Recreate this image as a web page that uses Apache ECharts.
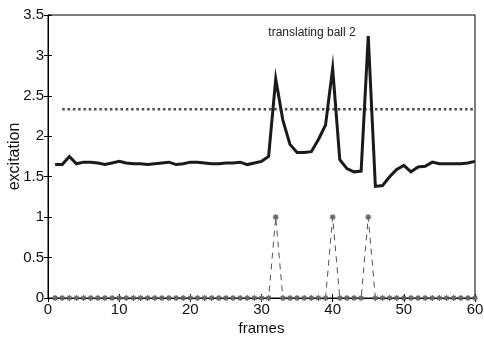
<!DOCTYPE html>
<html>
<head>
<meta charset="utf-8">
<script src="https://cdn.jsdelivr.net/npm/echarts@6/dist/echarts.min.js"></script>
<style>html,body{margin:0;padding:0;background:#fff}#c{width:484px;height:338px}</style>
</head>
<body>
<div id="c"></div>
<script>
// frames 1..60
const frames = [];
for (let i = 1; i <= 60; i++) frames.push(i);

const excitation = [1.65,1.65,1.75,1.66,1.68,1.68,1.67,1.65,1.67,1.69,
                    1.67,1.66,1.66,1.65,1.66,1.67,1.68,1.65,1.66,1.68,
                    1.68,1.67,1.66,1.66,1.67,1.67,1.68,1.65,1.67,1.69,
                    1.75,2.71,2.20,1.90,1.80,1.80,1.81,1.96,2.14,2.84,
                    1.71,1.60,1.56,1.57,3.24,1.38,1.39,1.50,1.59,1.64,
                    1.56,1.62,1.63,1.68,1.66,1.66,1.66,1.66,1.67,1.69];

const thresholdValue = 2.335;
const thresholdStart = 2;
const thresholdEnd = 60;

const eventFrames = [32, 40, 45];
const detection = frames.map(f => eventFrames.includes(f) ? 1 : 0);

const xTicks = [0,10,20,30,40,50,60];
const yTicks = [0,0.5,1,1.5,2,2.5,3,3.5];

const FONT = 'Liberation Sans, Arial, sans-serif';
const chart = echarts.init(document.getElementById('c'), null, {renderer:'canvas'});

const starPath = 'path://M0,-10L0,10M-10,0L10,0M-7,-7L7,7M-7,7L7,-7';

const tickCommon = {show:true, inside:true, length:4, lineStyle:{color:'#000', width:1}};

chart.setOption({
  animation:false,
  backgroundColor:'#fff',
  grid:{left:48, right:9, top:15, bottom:40, show:true, borderColor:'#000', borderWidth:1,
        containLabel:false, outerBoundsMode:'none'},
  title:{text:'translating ball 2', left:307, top:22, textAlign:'center',
         textStyle:{fontFamily:FONT, fontSize:12, fontWeight:'normal', color:'#222'}},
  xAxis:[{
    type:'value', min:0, max:60, interval:10, position:'bottom',
    name:'frames', nameLocation:'middle', nameGap:23, nameMoveOverlap:false,
    nameTextStyle:{fontFamily:FONT, fontSize:15, color:'#111'},
    axisLine:{show:true, lineStyle:{color:'#000', width:1}},
    axisTick:tickCommon,
    axisLabel:{fontFamily:FONT, fontSize:15, color:'#111', margin:4},
    splitLine:{show:false}
  },{
    type:'value', min:0, max:60, interval:10, position:'top',
    axisLine:{show:true, lineStyle:{color:'#000'}}, axisTick:tickCommon,
    axisLabel:{show:false}, splitLine:{show:false}
  }],
  yAxis:[{
    type:'value', min:0, max:3.5, interval:0.5, position:'left',
    name:'excitation', nameLocation:'middle', nameGap:25, nameRotate:90, nameMoveOverlap:false,
    nameTextStyle:{fontFamily:FONT, fontSize:16, color:'#111'},
    axisLine:{show:true, lineStyle:{color:'#000', width:1}},
    axisTick:tickCommon,
    axisLabel:{fontFamily:FONT, fontSize:15, color:'#111', margin:4},
    splitLine:{show:false}
  },{
    type:'value', min:0, max:3.5, interval:0.5, position:'right',
    axisLine:{show:true, lineStyle:{color:'#000'}}, axisTick:tickCommon,
    axisLabel:{show:false}, splitLine:{show:false}
  }],
  series:[
    {
      type:'line', name:'threshold', z:3,
      data:[[thresholdStart, thresholdValue],[thresholdEnd, thresholdValue]],
      showSymbol:false, symbol:'none',
      lineStyle:{color:'#4a4a4a', width:2.6, type:[2.5,2.8]}
    },
    {
      type:'line', name:'excitation', z:4,
      data:frames.map((f,i)=>[f, excitation[i]]),
      showSymbol:false, symbol:'none',
      lineStyle:{color:'#1a1a1a', width:3, join:'miter'}
    },
    {
      type:'line', name:'detection', z:5,
      data:frames.map((f,i)=>[f, detection[i]]),
      symbol:starPath, symbolSize:6, showSymbol:true,
      itemStyle:{color:'#666', borderColor:'#666', borderWidth:1.2},
      lineStyle:{color:'#555', width:1, type:[6,5]}
    }
  ]
});
</script>
</body>
</html>
